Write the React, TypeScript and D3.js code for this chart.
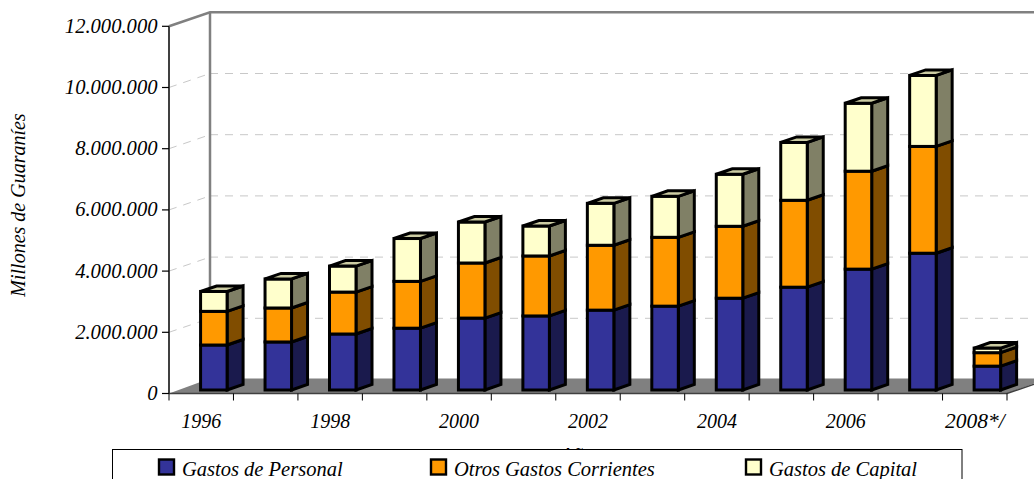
import React from "react";
import * as d3 from "d3";

const categories = ["1996","1997","1998","1999","2000","2001","2002","2003","2004","2005","2006","2007","2008*/"];
const shownLabels = ["1996","1998","2000","2002","2004","2006","2008*/"];
const personal = [1470000,1570000,1830000,2020000,2350000,2420000,2610000,2740000,3000000,3360000,3950000,4470000,780000];
const otros = [1100000,1110000,1370000,1530000,1800000,1960000,2120000,2250000,2350000,2840000,3200000,3490000,440000];
const capital = [650000,950000,850000,1400000,1340000,980000,1370000,1340000,1700000,1890000,2220000,2320000,150000];
const yTicks = [0,2000000,4000000,6000000,8000000,10000000,12000000];
const seriesNames = ["Gastos de Personal","Otros Gastos Corrientes","Gastos de Capital"];
const front = ["#333399","#ff9900","#ffffcc"];
const side = ["#1a1a4d","#804d00","#808066"];
const top = ["#29297a","#cc7a00","#cccca3"];

const W = 1034, H = 479;
const x0 = 169, x1 = 1007, y0 = 393.5, y1 = 26.3;
const depthX = 41, depthY = 14;
const barW = 26.5, barDX = 16, barDY = 5.5;
const barShiftX = 12.6, barShiftY = 3.5;
const font = "'Liberation Serif', serif";

const fmt = (v: number) => d3.format(",")(v).replace(/,/g, ".");

export default function App() {
  const x = d3.scaleBand<string>().domain(categories).range([x0, x1]);
  const y = d3.scaleLinear().domain([0, 12000000]).range([y0, y1]);
  const rows = categories.map((c, i) => ({ c, personal: personal[i], otros: otros[i], capital: capital[i] }));
  const stack = d3.stack<any>().keys(["personal", "otros", "capital"])(rows);
  const line = d3.line();
  const poly = (pts: [number, number][]) => line(pts) + "Z";

  return (
    <svg width={W} height={H} viewBox={`0 0 ${W} ${H}`} style={{ position: "fixed", left: 0, top: 0, background: "#fff" }} fontFamily={font} fontStyle="italic">
      {/* floor */}
      <path d={poly([[x0, y0], [x1, y0], [x1 + depthX, y0 - depthY - 1], [x0 + depthX, y0 - depthY - 1]])} fill="#808080" />
      {/* grid */}
      {yTicks.slice(1, -1).map(t => (
        <g key={t} stroke="#c8c8c8" strokeWidth={1} strokeDasharray="8 7" fill="none">
          <path d={`M${x0},${y(t)}L${x0 + depthX},${y(t) - depthY}`} />
          <path d={`M${x0 + depthX},${y(t) - depthY}H${W}`} />
        </g>
      ))}
      {/* walls */}
      <path d={`M${x0},${y1}L${x0 + depthX},${y1 - depthY}H${W}`} fill="none" stroke="#808080" strokeWidth={2.5} />
      <path d={`M${x0 + depthX},${y1 - depthY}V${y0 - depthY}`} fill="none" stroke="#808080" strokeWidth={2.5} />
      <path d={`M${x0},${y1}V${y0}`} fill="none" stroke="#404040" strokeWidth={2} />
      {/* bars */}
      {categories.map((c, i) => {
        const bx = x(c)! + x.bandwidth() / 2 - barW / 2 + barShiftX;
        return (
          <g key={c} stroke="#000" strokeWidth={3} strokeLinejoin="miter">
            {stack.map((s, k) => {
              const yb = y(s[i][0]) - barShiftY;
              const yt = y(s[i][1]) - barShiftY;
              return (
                <g key={k}>
                  <path d={poly([[bx + barW, yb], [bx + barW + barDX, yb - barDY], [bx + barW + barDX, yt - barDY], [bx + barW, yt]])} fill={side[k]} />
                  <rect x={bx} y={yt} width={barW} height={yb - yt} fill={front[k]} />
                  {k === stack.length - 1 && (
                    <path d={poly([[bx, yt], [bx + barW, yt], [bx + barW + barDX, yt - barDY], [bx + barDX, yt - barDY]])} fill={top[k]} />
                  )}
                </g>
              );
            })}
          </g>
        );
      })}
      {/* axes */}
      <path d={`M${x0},${y0}H${x1}L${x1 + depthX},${y0 - depthY}`} fill="none" stroke="#404040" strokeWidth={1.5} />
      {yTicks.map(t => (
        <g key={t}>
          <line x1={x0 - 7} x2={x0} y1={y(t)} y2={y(t)} stroke="#000" strokeWidth={1.2} />
          <text x={157.5} y={y(t) + 6.5} textAnchor="end" fontSize={20.6}>{fmt(t)}</text>
        </g>
      ))}
      {[...categories, ""].map((c, i) => {
        const tx = x0 + i * x.step();
        return <line key={i} x1={tx} x2={tx} y1={y0} y2={y0 + 7} stroke="#000" strokeWidth={1} />;
      })}
      {shownLabels.map(c => (
        <text key={c} x={x(c)! + x.bandwidth() / 2} y={428} textAnchor="middle" fontSize={c.length > 4 ? 21.5 : 20}>{c}</text>
      ))}
      <text transform="translate(25,205) rotate(-90)" textAnchor="middle" fontSize={20}>Millones de Guaraníes</text>
      <text x={581} y={461.5} textAnchor="middle" fontSize={21}>Años</text>
      {/* legend */}
      <rect x={112.5} y={449.5} width={849.5} height={40} fill="#fff" stroke="#000" strokeWidth={1} />
      {seriesNames.map((n, k) => {
        const lx = [158, 430, 745][k];
        return (
          <g key={n}>
            <rect x={lx + 1} y={459.5} width={15} height={15} fill={front[k]} stroke="#000" strokeWidth={2.4} />
            <text x={lx + 24} y={476} fontSize={20.5}>{n}</text>
          </g>
        );
      })}
    </svg>
  );
}
